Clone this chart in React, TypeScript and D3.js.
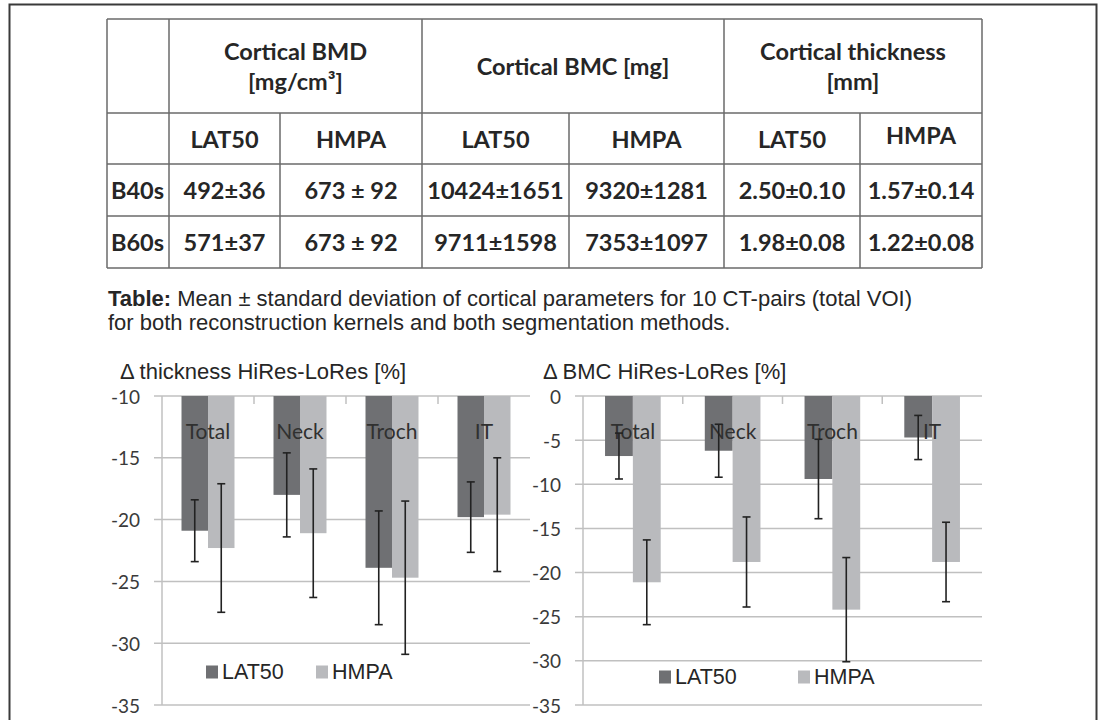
import { useEffect, useRef } from "react";
import * as d3 from "d3";

const width = 1099;
const height = 720;

// table content
const tableGroups = [["Cortical BMD", "[mg/cm³]"], ["Cortical BMC [mg]"], ["Cortical thickness", "[mm]"]];
const methods = ["LAT50", "HMPA"];
const kernels = ["B40s", "B60s"];
const b40sValues = ["492±36", "673 ± 92", "10424±1651", "9320±1281", "2.50±0.10", "1.57±0.14"];
const b60sValues = ["571±37", "673 ± 92", "9711±1598", "7353±1097", "1.98±0.08", "1.22±0.08"];
const captionBold = "Table:";
const captionRest = " Mean ± standard deviation of cortical parameters for 10 CT-pairs (total VOI)";
const captionLine2 = "for both reconstruction kernels and both segmentation methods.";

// chart content
const categories = ["Total", "Neck", "Troch", "IT"];
const seriesNames = ["LAT50", "HMPA"];
const thicknessLat50 = [-20.9, -18.0, -23.9, -19.8];
const thicknessLat50Sd = [2.5, 3.4, 4.6, 2.85];
const thicknessHmpa = [-22.3, -21.1, -24.7, -19.6];
const thicknessHmpaSd = [5.2, 5.2, 6.2, 4.6];
const bmcLat50 = [-6.8, -6.2, -9.4, -4.7];
const bmcLat50Sd = [2.6, 3.0, 4.5, 2.5];
const bmcHmpa = [-21.1, -18.8, -24.2, -18.8];
const bmcHmpaSd = [4.8, 5.1, 5.9, 4.5];
const thicknessTicks = [-10, -15, -20, -25, -30, -35];
const bmcTicks = [0, -5, -10, -15, -20, -25, -30, -35];

const colors = ["#6f7073", "#b9babd"];
const lineColor = "#6a6a6a";
const textColor = "#262626";

// table layout
const colEdges = [107, 169, 280, 422, 569, 724, 860, 982];
const rowEdges = [19, 113, 164, 216, 268];

function drawTable(svg: any) {
  const g = svg.append("g");
  const left = colEdges[0];
  const right = colEdges[colEdges.length - 1];
  const top = rowEdges[0];
  const bottom = rowEdges[rowEdges.length - 1];

  rowEdges.forEach((y) => {
    g.append("line").attr("x1", left).attr("x2", right).attr("y1", y).attr("y2", y)
      .attr("stroke", lineColor).attr("stroke-width", 1.5);
  });
  colEdges.forEach((x, i) => {
    const split = i === 2 || i === 4 || i === 6;
    g.append("line").attr("x1", x).attr("x2", x)
      .attr("y1", split ? rowEdges[1] : top).attr("y2", bottom)
      .attr("stroke", lineColor).attr("stroke-width", 1.5);
  });

  const font = (sel: any) =>
    sel.style("font-family", "Lato, sans-serif").style("font-weight", 700)
      .style("font-size", "23.5px").attr("fill", textColor)
      .attr("text-anchor", "middle").attr("dominant-baseline", "central");

  // group headers
  tableGroups.forEach((lines, i) => {
    const cx = (colEdges[1 + 2 * i] + colEdges[3 + 2 * i]) / 2;
    const cy = (rowEdges[0] + rowEdges[1]) / 2;
    lines.forEach((t, j) => {
      const dy = (j - (lines.length - 1) / 2) * 30;
      font(g.append("text")).attr("x", cx).attr("y", cy + dy).text(t);
    });
  });

  // method headers
  for (let c = 1; c < colEdges.length - 1; c++) {
    const name = methods[(c - 1) % 2];
    const lift = c === colEdges.length - 2 ? -4 : 0;
    font(g.append("text"))
      .attr("x", (colEdges[c] + colEdges[c + 1]) / 2)
      .attr("y", (rowEdges[1] + rowEdges[2]) / 2 + lift)
      .text(name);
  }

  // data rows
  [b40sValues, b60sValues].forEach((vals, r) => {
    const cy = (rowEdges[2 + r] + rowEdges[3 + r]) / 2;
    font(g.append("text")).attr("x", colEdges[0] + 4).attr("y", cy)
      .attr("text-anchor", "start").text(kernels[r]);
    vals.forEach((v, c) => {
      font(g.append("text"))
        .attr("x", (colEdges[c + 1] + colEdges[c + 2]) / 2)
        .attr("y", cy)
        .text(v);
    });
  });

  // caption
  const cap = g.append("text").attr("x", 108).attr("y", 298)
    .attr("dominant-baseline", "central")
    .style("font-family", "'Liberation Sans', Arial, sans-serif")
    .style("font-size", "22px").attr("fill", textColor);
  cap.append("tspan").style("font-weight", 700).text(captionBold);
  cap.append("tspan").text(captionRest);
  g.append("text").attr("x", 108).attr("y", 322)
    .attr("dominant-baseline", "central")
    .style("font-family", "'Liberation Sans', Arial, sans-serif")
    .style("font-size", "22px").attr("fill", textColor)
    .text(captionLine2);
}

type ChartConfig = {
  x0: number;
  x1: number;
  yTop: number;
  yBottom: number;
  ticks: number[];
  title: string;
  titleX: number;
  values: number[][];
  errors: number[][];
  legendX: number[];
  legendY: number;
  groupRatio: number;
};

function drawChart(svg: any, cfg: ChartConfig) {
  const g = svg.append("g");
  const y = d3.scaleLinear()
    .domain([d3.min(cfg.ticks) as number, d3.max(cfg.ticks) as number])
    .range([cfg.yBottom, cfg.yTop]);
  const x = d3.scaleBand().domain(categories).range([cfg.x0, cfg.x1]).paddingInner(0);
  const groupW = x.step() * cfg.groupRatio;
  const xs = d3.scaleBand().domain(seriesNames).range([0, groupW]);
  const top = y.domain()[1];

  // title
  g.append("text").attr("x", cfg.titleX).attr("y", cfg.yTop - 25)
    .attr("dominant-baseline", "central")
    .style("font-family", "'Liberation Sans', Arial, sans-serif")
    .style("font-size", "22px").attr("fill", textColor)
    .text(cfg.title);

  // gridlines + labels
  cfg.ticks.forEach((t) => {
    g.append("line").attr("x1", cfg.x0 - 8).attr("x2", cfg.x1)
      .attr("y1", y(t)).attr("y2", y(t))
      .attr("stroke", "#c0c0c0").attr("stroke-width", 1.5);
    g.append("text").attr("x", cfg.x0 - 22).attr("y", y(t))
      .attr("text-anchor", "end").attr("dominant-baseline", "central")
      .style("font-family", "Lato, sans-serif").style("font-size", "19px")
      .attr("fill", "#3a3a3a").text(t);
  });
  g.append("line").attr("x1", cfg.x0).attr("x2", cfg.x0)
    .attr("y1", cfg.yTop).attr("y2", cfg.yBottom)
    .attr("stroke", "#c0c0c0").attr("stroke-width", 1.5);
  // category ticks on top axis
  d3.range(1, categories.length).forEach((i) => {
    const tx = cfg.x0 + i * x.step();
    g.append("line").attr("x1", tx).attr("x2", tx)
      .attr("y1", cfg.yTop).attr("y2", cfg.yTop + 8)
      .attr("stroke", "#c0c0c0").attr("stroke-width", 1.5);
  });

  // bars
  seriesNames.forEach((s, si) => {
    categories.forEach((c, ci) => {
      const bx = (x(c) as number) + (x.step() - groupW) / 2 + (xs(s) as number);
      const v = cfg.values[si][ci];
      g.append("rect").attr("x", bx).attr("width", xs.bandwidth())
        .attr("y", y(top)).attr("height", y(v) - y(top))
        .attr("fill", colors[si]);
    });
  });

  // category labels
  categories.forEach((c) => {
    g.append("text").attr("x", (x(c) as number) + x.step() / 2).attr("y", cfg.yTop + 34)
      .attr("text-anchor", "middle").attr("dominant-baseline", "central")
      .style("font-family", "Lato, sans-serif").style("font-size", "21px")
      .attr("fill", "#303030").text(c);
  });

  // error bars
  seriesNames.forEach((s, si) => {
    categories.forEach((c, ci) => {
      const cx = (x(c) as number) + (x.step() - groupW) / 2 + (xs(s) as number) + xs.bandwidth() / 2;
      const v = cfg.values[si][ci];
      const e = cfg.errors[si][ci];
      const eg = g.append("g").attr("stroke", "#222").attr("stroke-width", 1.6);
      eg.append("line").attr("x1", cx).attr("x2", cx).attr("y1", y(v + e)).attr("y2", y(v - e));
      [v + e, v - e].forEach((ev) => {
        eg.append("line").attr("x1", cx - 4).attr("x2", cx + 4).attr("y1", y(ev)).attr("y2", y(ev));
      });
    });
  });

  // legend
  seriesNames.forEach((s, si) => {
    const lx = cfg.legendX[si];
    g.append("rect").attr("x", lx).attr("y", cfg.legendY - 6.5)
      .attr("width", 12).attr("height", 13).attr("fill", colors[si]);
    g.append("text").attr("x", lx + 16).attr("y", cfg.legendY)
      .attr("dominant-baseline", "central")
      .style("font-family", "'Liberation Sans', Arial, sans-serif")
      .style("font-size", "21.5px").attr("fill", textColor).text(s);
  });
}

export default function App() {
  const ref = useRef<SVGSVGElement>(null);

  useEffect(() => {
    const svg = d3.select(ref.current);
    svg.selectAll("*").remove();

    svg.append("rect").attr("width", width).attr("height", height).attr("fill", "white");
    // outer frame (bottom edge is off the page)
    svg.append("rect").attr("x", 9.5).attr("y", 4.5).attr("width", 1087).attr("height", 800)
      .attr("fill", "none").attr("stroke", "#3a3a3a").attr("stroke-width", 2);

    drawTable(svg);

    drawChart(svg, {
      x0: 162, x1: 530, yTop: 396, yBottom: 705,
      ticks: thicknessTicks,
      title: "Δ thickness HiRes-LoRes [%]", titleX: 120,
      values: [thicknessLat50, thicknessHmpa],
      errors: [thicknessLat50Sd, thicknessHmpaSd],
      legendX: [206, 316], legendY: 672, groupRatio: 0.576,
    });
    drawChart(svg, {
      x0: 583, x1: 982, yTop: 396, yBottom: 705,
      ticks: bmcTicks,
      title: "Δ BMC HiRes-LoRes [%]", titleX: 543,
      values: [bmcLat50, bmcHmpa],
      errors: [bmcLat50Sd, bmcHmpaSd],
      legendX: [659, 798], legendY: 677, groupRatio: 0.558,
    });
  }, []);

  return (
    <svg ref={ref} width={width} height={height}
      style={{ position: "absolute", left: 0, top: 0, display: "block" }} />
  );
}
